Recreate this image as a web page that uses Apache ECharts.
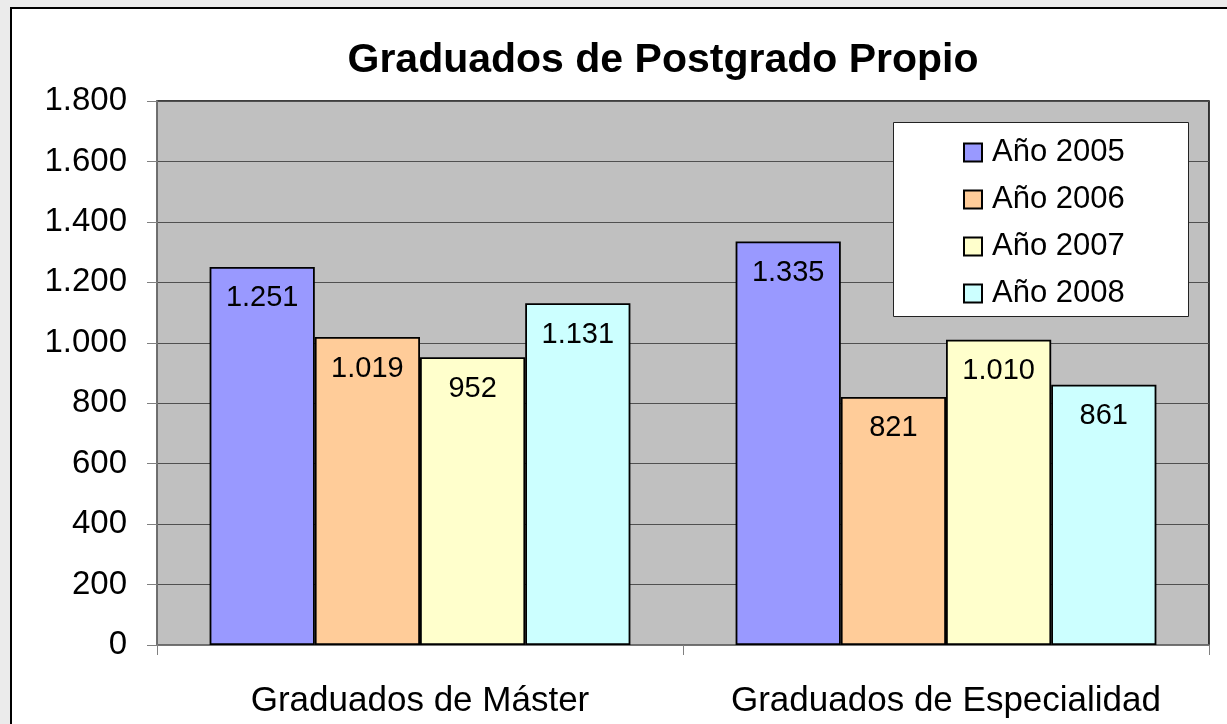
<!DOCTYPE html>
<html>
<head>
<meta charset="utf-8">
<script src="https://cdn.jsdelivr.net/npm/echarts@6/dist/echarts.min.js"></script>
<style>
html,body{margin:0;padding:0;background:#ebebeb;overflow:hidden;}
#frame{position:absolute;left:10px;top:7px;width:1240px;height:740px;background:#fff;border:2px solid #000;box-sizing:border-box;}
#main{position:absolute;left:0;top:0;width:1227px;height:724px;}
</style>
</head>
<body>
<div id="frame"></div>
<div id="main"></div>
<script>
const categories = ['Graduados de Máster', 'Graduados de Especialidad'];
const seriesNames = ['Año 2005', 'Año 2006', 'Año 2007', 'Año 2008'];
const values2005 = [1251, 1335];
const values2006 = [1019, 821];
const values2007 = [952, 1010];
const values2008 = [1131, 861];
const yTicks = [0, 200, 400, 600, 800, 1000, 1200, 1400, 1600, 1800];

const colors = ['#9999ff', '#ffcc99', '#ffffcc', '#ccffff'];
const allValues = [values2005, values2006, values2007, values2008];
const FONT = 'Liberation Sans, Arial, sans-serif';
const fmt = v => String(v).replace(/\B(?=(\d{3})+(?!\d))/g, '.');

const chart = echarts.init(document.getElementById('main'), null, {renderer: 'canvas'});
chart.setOption({
  backgroundColor: 'transparent',
  animation: false,
  title: {
    text: 'Graduados de Postgrado Propio',
    left: 658, top: 35, textAlign: 'center',
    textStyle: {fontFamily: FONT, fontSize: 41, fontWeight: 'bold', color: '#000'}
  },
  graphic: [{
    type: 'rect', z: 3, silent: true,
    shape: {x: 893.5, y: 122.5, width: 295, height: 194},
    style: {fill: '#fff', stroke: '#222', lineWidth: 1}
  }],
  legend: {
    orient: 'vertical', left: 963, top: 137, z: 4, padding: 0,
    itemWidth: 18, itemHeight: 18, itemGap: 16,
    icon: 'rect',
    textStyle: {fontFamily: FONT, fontSize: 31, color: '#000', lineHeight: 31, padding: [0, 0, 0, 5]},
    data: seriesNames
  },
  grid: {
    left: 157, top: 101, right: 18, bottom: 79,
    show: true, backgroundColor: '#c0c0c0', borderColor: '#000', borderWidth: 1.5
  },
  xAxis: {
    type: 'category', data: categories,
    axisLine: {lineStyle: {color: '#808080', width: 1.5}},
    axisTick: {show: true, length: 10, lineStyle: {color: '#808080'}},
    axisLabel: {fontFamily: FONT, fontSize: 35, color: '#000', margin: 39, interval: 0, hideOverlap: false}
  },
  yAxis: {
    type: 'value', min: 0, max: 1800, interval: 200,
    axisLine: {show: true, lineStyle: {color: '#808080', width: 1.5}},
    axisTick: {show: true, length: 10, lineStyle: {color: '#808080'}},
    splitLine: {lineStyle: {color: '#505050', width: 1.2}},
    axisLabel: {fontFamily: FONT, fontSize: 33, color: '#000', margin: 30, formatter: v => fmt(v)}
  },
  series: seriesNames.map((name, i) => ({
    name, type: 'bar', data: allValues[i],
    barGap: '0%', barCategoryGap: '20%',
    itemStyle: {color: colors[i], borderColor: '#000', borderWidth: 1.8},
    label: {
      show: true, position: 'insideTop', distance: 17,
      fontFamily: FONT, fontSize: 29, color: '#000',
      formatter: p => fmt(p.value)
    }
  }))
});
</script>
</body>
</html>
